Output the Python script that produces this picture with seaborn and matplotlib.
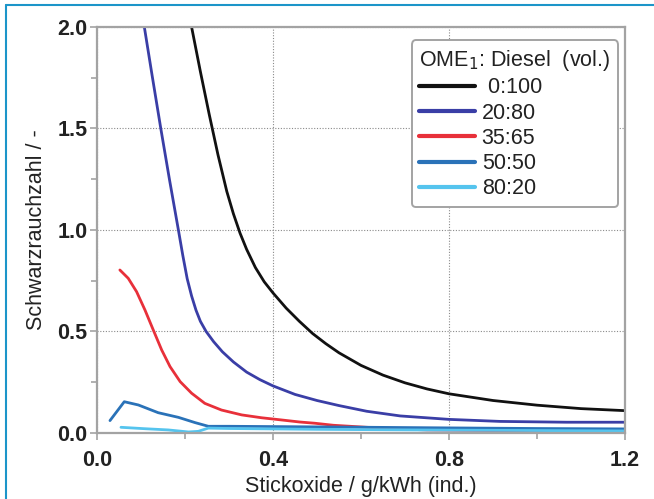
import numpy as np
import pandas as pd
import seaborn as sns
import matplotlib
matplotlib.use("Agg")
import matplotlib.pyplot as plt
from matplotlib.lines import Line2D
from matplotlib.ticker import MultipleLocator

# NOx (g/kWh, indicated) vs. smoke number for OME1/diesel blends
blends = ["0:100", "20:80", "35:65", "50:50", "80:20"]
legend_labels = [" 0:100", "20:80", "35:65", "50:50", "80:20"]
colors = ["#111111", "#3a3ea6", "#e8303a", "#2a72b8", "#55c4ee"]

nox_0_100 = [0.215, 0.235, 0.255, 0.275, 0.295, 0.31, 0.325, 0.34, 0.36, 0.38, 0.40, 0.43, 0.46,
             0.49, 0.52, 0.55, 0.60, 0.65, 0.70, 0.75, 0.80, 0.90, 1.00, 1.10, 1.20]
fsn_0_100 = [2.00, 1.78, 1.57, 1.37, 1.19, 1.08, 0.985, 0.905, 0.815, 0.745, 0.69, 0.615, 0.55,
             0.49, 0.44, 0.395, 0.333, 0.285, 0.247, 0.217, 0.193, 0.160, 0.137, 0.120, 0.110]

nox_20_80 = [0.1076, 0.125, 0.145, 0.165, 0.185, 0.195, 0.205, 0.215, 0.225, 0.235, 0.248, 0.265,
             0.285, 0.31, 0.34, 0.37, 0.40, 0.45, 0.50, 0.55, 0.613, 0.689, 0.80, 0.916, 1.067, 1.20]
fsn_20_80 = [2.00, 1.765, 1.50, 1.245, 1.00, 0.875, 0.76, 0.675, 0.605, 0.55, 0.50, 0.45,
             0.40, 0.35, 0.30, 0.263, 0.232, 0.19, 0.16, 0.135, 0.107, 0.084, 0.067, 0.057, 0.053, 0.053]

nox_35_65 = [0.052, 0.071, 0.09, 0.109, 0.128, 0.147, 0.166, 0.189, 0.215, 0.245, 0.283, 0.329,
             0.374, 0.42, 0.461, 0.495, 0.537, 0.613, 0.673, 0.75, 0.90, 1.20]
fsn_35_65 = [0.803, 0.762, 0.696, 0.606, 0.507, 0.409, 0.327, 0.253, 0.196, 0.146, 0.113, 0.089,
             0.075, 0.064, 0.054, 0.048, 0.038, 0.028, 0.021, 0.015, 0.012, 0.010]

nox_50_50 = [0.0295, 0.062, 0.094, 0.139, 0.185, 0.223, 0.253, 0.30, 0.50, 0.80, 1.00, 1.20]
fsn_50_50 = [0.061, 0.154, 0.138, 0.100, 0.077, 0.051, 0.033, 0.033, 0.030, 0.025, 0.022, 0.020]

nox_80_20 = [0.0545, 0.109, 0.162, 0.208, 0.230, 0.253, 0.30, 0.50, 0.80, 1.00, 1.20]
fsn_80_20 = [0.028, 0.021, 0.015, 0.005, 0.008, 0.024, 0.022, 0.018, 0.014, 0.012, 0.010]

series = {
    "0:100": (nox_0_100, fsn_0_100),
    "20:80": (nox_20_80, fsn_20_80),
    "35:65": (nox_35_65, fsn_35_65),
    "50:50": (nox_50_50, fsn_50_50),
    "80:20": (nox_80_20, fsn_80_20),
}
df = pd.concat(
    [pd.DataFrame({"nox": x, "fsn": y, "blend": name}) for name, (x, y) in series.items()],
    ignore_index=True,
)

sns.set_theme(style="white")
plt.rcParams["font.family"] = ["Liberation Sans", "DejaVu Sans"]

fig = plt.figure(figsize=(6.54, 4.99), dpi=100)
ax = fig.add_axes([0.1483, 0.1323, 0.8074, 0.8136])

sns.lineplot(data=df, x="nox", y="fsn", hue="blend", hue_order=blends,
             palette=colors, sort=False, estimator=None, linewidth=2.0, ax=ax)
for ln in ax.get_lines():
    ln.set_solid_joinstyle("round")
    ln.set_solid_capstyle("round")

ax.set_xlim(0, 1.2)
ax.set_ylim(0, 2.0)
ax.xaxis.set_major_locator(MultipleLocator(0.4))
ax.xaxis.set_minor_locator(MultipleLocator(0.2))
ax.yaxis.set_major_locator(MultipleLocator(0.5))
ax.yaxis.set_minor_locator(MultipleLocator(0.25))
ax.set_xticklabels([f"{v:.1f}" for v in ax.get_xticks()])
ax.set_yticklabels([f"{v:.1f}" for v in ax.get_yticks()])

ax.grid(True, which="major", linestyle=(0, (1, 1.5)), color="#8a8a8a", linewidth=0.8)
for s in ax.spines.values():
    s.set_color("#a3a3a3")
    s.set_linewidth(1.6)
ax.tick_params(which="both", direction="out", color="#a3a3a3", width=1.2,
               bottom=True, left=True)
ax.tick_params(which="major", length=5, labelsize=15.5, labelcolor="#222222")
ax.tick_params(axis="x", which="major", pad=7)
ax.tick_params(axis="y", which="major", pad=2)
ax.tick_params(which="minor", length=4)
for lab in ax.get_xticklabels() + ax.get_yticklabels():
    lab.set_fontweight("bold")

ax.set_xlabel("Stickoxide / g/kWh (ind.)", fontsize=15.5, color="#222222", labelpad=4)
ax.set_ylabel("Schwarzrauchzahl / -", fontsize=15.5, color="#222222", labelpad=7)

handles, _ = ax.get_legend_handles_labels()
for h in handles:
    h.set_linewidth(3.0)
leg = ax.legend(handles, legend_labels,
                title="OME$_1$: Diesel  (vol.)", loc="upper right",
                bbox_to_anchor=(0.987, 0.967), fontsize=15.5, title_fontsize=15.5,
                frameon=True, fancybox=True, handlelength=2.6, handletextpad=0.3,
                labelspacing=0.2, borderpad=0.35, borderaxespad=0.0,
                labelcolor="#222222")
leg._legend_box.align = "left"
leg.get_frame().set_edgecolor("#a3a3a3")
leg.get_frame().set_linewidth(1.4)
leg.get_frame().set_alpha(1.0)
leg.get_title().set_color("#222222")

# thin teal frame along the top and left edges of the figure
W, H = 654.0, 499.0
frame_c = "#1c95c9"
fig.add_artist(Line2D([6 / W, 6 / W], [0, 1 - 5 / H], transform=fig.transFigure,
                      color=frame_c, linewidth=1.5))
fig.add_artist(Line2D([6 / W, 1], [1 - 5 / H, 1 - 5 / H], transform=fig.transFigure,
                      color=frame_c, linewidth=1.5))

fig.savefig("out.png", dpi=100)
